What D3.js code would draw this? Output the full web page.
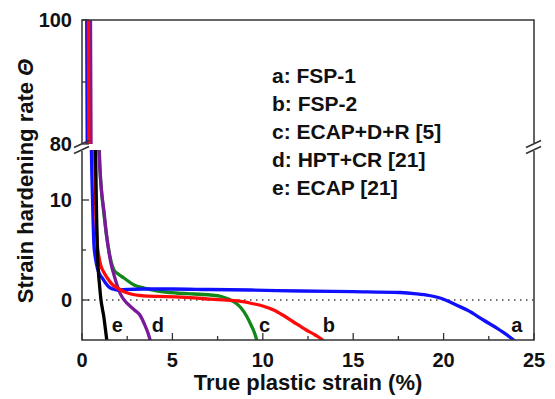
<!DOCTYPE html>
<html>
<head>
<meta charset="utf-8">
<script src="https://cdn.jsdelivr.net/npm/d3@7"></script>
<style>
  body { margin: 0; background: #fff; }
  svg { display: block; font-family: "Liberation Sans", Arial, sans-serif; font-weight: bold; }
</style>
</head>
<body>
<figure id="chart" style="margin:0"></figure>
<script>
// strain (%) and hardening rate for each curve
const strainA = [0.24, 0.26, 0.29, 0.52, 0.59, 0.66, 0.75, 0.85, 0.97, 1.12, 1.3, 1.49, 1.7, 1.95, 2.5, 3.4, 5, 7, 9.3, 12.1, 15, 17.6, 18.5, 19.2, 19.7, 20.1, 20.7, 21.3, 22.2, 23.1, 23.8, 24.05];
const thetaA  = [125, 100, 80, 15, 9.5, 5.5, 4.1, 3.2, 2.6, 2.2, 1.7, 1.3, 1.1, 1.0, 1.05, 1.1, 1.1, 1.05, 1.0, 0.9, 0.83, 0.75, 0.62, 0.45, 0.25, 0, -0.5, -1.0, -2.0, -3.0, -3.9, -4.3];

const strainB = [0.33, 0.35, 0.38, 0.69, 0.77, 0.85, 0.94, 1.03, 1.2, 1.4, 1.65, 1.95, 2.3, 2.7, 3.4, 4.2, 5.2, 6.2, 7.1, 8, 8.9, 9.4, 10.0, 10.6, 11.1, 11.7, 12.4, 12.9, 13.3, 13.45];
const thetaB  = [125, 100, 80, 15, 8.5, 5.5, 4.3, 3.5, 2.8, 2.2, 1.6, 1.2, 0.85, 0.6, 0.42, 0.36, 0.32, 0.22, 0.08, -0.02, -0.17, -0.35, -0.6, -1.0, -1.5, -2.2, -3.0, -3.5, -4.0, -4.3];

const strainC = [0.85, 1.0, 1.22, 1.49, 1.77, 2.0, 2.32, 2.88, 3.43, 4.2, 5.2, 6.2, 7.1, 7.7, 8.1, 8.5, 8.8, 9.1, 9.35, 9.6, 9.7];
const thetaC  = [20, 13, 8.5, 4.9, 3.0, 2.6, 2.2, 1.5, 1.2, 0.9, 0.7, 0.6, 0.5, 0.35, 0.1, -0.3, -0.8, -1.6, -2.5, -3.6, -4.3];

const strainD = [0.45, 0.47, 0.5, 0.94, 1.05, 1.22, 1.35, 1.49, 1.62, 1.77, 1.92, 2.05, 2.2, 2.4, 2.65, 2.9, 3.2, 3.45, 3.65, 3.8];
const thetaD  = [125, 100, 80, 15, 11.5, 8.8, 6.6, 4.8, 3.5, 2.5, 1.6, 0.9, 0.35, -0.15, -0.6, -1.0, -1.5, -2.4, -3.3, -4.2];

const strainE = [0.7, 0.75, 0.8, 0.85, 0.9, 0.97, 1.05, 1.12, 1.2, 1.28, 1.37, 1.4];
const thetaE  = [20, 15, 9, 5, 3.0, 1.5, 0, -0.8, -1.6, -2.7, -4.0, -4.4];

const seriesNames = ['a', 'b', 'c', 'd', 'e'];
const legendLabels = ['a: FSP-1', 'b: FSP-2', 'c: ECAP+D+R [5]', 'd: HPT+CR [21]', 'e: ECAP [21]'];
const curveLabelStrain = [24.05, 13.65, 10.1, 4.2, 1.95];
const xTicks = [0, 5, 10, 15, 20, 25];
const yTicksTop = [80, 100];
const yTicksBottom = [0, 10];

const colors = {a: '#1010ff', b: '#ff0a0a', c: '#12881a', d: '#7a1a9a', e: '#000000'};
const width = 555, height = 399;
const plotLeft = 82, plotRight = 534, plotTop = 20, breakTop = 144, breakBottom = 150, plotBottom = 340;

const svg = d3.select('figure#chart')
  .append('svg')
  .attr('width', width)
  .attr('height', height);

svg.append('rect').attr('width', width).attr('height', height).attr('fill', '#fff');

const x = d3.scaleLinear().domain([0, 25]).range([plotLeft, plotRight]);
const yTop = d3.scaleLinear().domain([80, 100]).range([breakTop, plotTop]);
const yBot = d3.scaleLinear().domain([-4, 15]).range([plotBottom, breakBottom]);

// clip regions for the two panels
const defs = svg.append('defs');
defs.append('clipPath').attr('id', 'clipTop').append('rect')
  .attr('x', plotLeft).attr('y', plotTop).attr('width', plotRight - plotLeft).attr('height', breakTop - plotTop);
defs.append('clipPath').attr('id', 'clipBot').append('rect')
  .attr('x', plotLeft).attr('y', breakBottom).attr('width', plotRight - plotLeft).attr('height', plotBottom - breakBottom);

// zero line
svg.append('line')
  .attr('x1', x(0)).attr('x2', x(25))
  .attr('y1', yBot(0)).attr('y2', yBot(0))
  .attr('stroke', '#444').attr('stroke-width', 1.3)
  .attr('stroke-dasharray', '1.5,4.5');

const data = {
  a: strainA.map((s, i) => [s, thetaA[i]]),
  b: strainB.map((s, i) => [s, thetaB[i]]),
  c: strainC.map((s, i) => [s, thetaC[i]]),
  d: strainD.map((s, i) => [s, thetaD[i]]),
  e: strainE.map((s, i) => [s, thetaE[i]])
};

const drawOrder = ['c', 'd', 'a', 'b', 'e'];
[[yTop, 'clipTop'], [yBot, 'clipBot']].forEach(([y, clip]) => {
  const line = d3.line().x(d => x(d[0])).y(d => y(d[1])).curve(d3.curveMonotoneX);
  svg.append('g')
    .attr('clip-path', 'url(#' + clip + ')')
    .selectAll('path')
    .data(drawOrder)
    .enter()
    .append('path')
    .attr('d', k => line(data[k]))
    .attr('fill', 'none')
    .attr('stroke', k => colors[k])
    .attr('stroke-width', 3.3)
    .attr('stroke-linejoin', 'round');
});

// frame
const axisColor = '#333';
const frame = svg.append('g').attr('stroke', axisColor).attr('stroke-width', 1.5).attr('fill', 'none');
frame.append('path').attr('d', `M${plotLeft},${breakTop - 1}V${plotTop}H${plotRight}V${breakTop - 1}`);
frame.append('path').attr('d', `M${plotLeft},${breakBottom + 1}V${plotBottom}H${plotRight}V${breakBottom + 1}`);

// break marks
[plotLeft, plotRight].forEach(bx => {
  [breakTop, breakBottom].forEach(by => {
    frame.append('line')
      .attr('x1', bx - 8).attr('y1', by + 3.5)
      .attr('x2', bx + 7).attr('y2', by - 3.5)
      .attr('stroke-width', 1.6);
  });
});

// ticks (inward)
const ticks = svg.append('g').attr('stroke', axisColor).attr('stroke-width', 1.3);
d3.range(0, 25.01, 2.5).forEach(v => {
  const major = v % 5 === 0;
  ticks.append('line')
    .attr('x1', x(v)).attr('x2', x(v))
    .attr('y1', plotBottom).attr('y2', plotBottom - (major ? 7 : 4));
});
[80, 90, 100].forEach(v => {
  ticks.append('line').attr('x1', plotLeft).attr('x2', plotLeft + (v === 90 ? 4 : 7))
    .attr('y1', yTop(v)).attr('y2', yTop(v));
});
[0, 5, 10].forEach(v => {
  ticks.append('line').attr('x1', plotLeft).attr('x2', plotLeft + (v === 5 ? 4 : 7))
    .attr('y1', yBot(v)).attr('y2', yBot(v));
});

// tick labels
const labelColor = '#111';
svg.append('g').selectAll('text')
  .data(xTicks).enter().append('text')
  .attr('x', d => x(d)).attr('y', 367)
  .attr('text-anchor', 'middle').attr('font-size', 20).attr('fill', labelColor)
  .text(d => d);

svg.append('g').selectAll('text')
  .data(yTicksTop).enter().append('text')
  .attr('x', 72).attr('y', d => yTop(d)).attr('dy', '0.36em')
  .attr('text-anchor', 'end').attr('font-size', 20).attr('fill', labelColor)
  .text(d => d);

svg.append('g').selectAll('text')
  .data(yTicksBottom).enter().append('text')
  .attr('x', 72).attr('y', d => yBot(d)).attr('dy', '0.36em')
  .attr('text-anchor', 'end').attr('font-size', 20).attr('fill', labelColor)
  .text(d => d);

// axis titles
svg.append('text')
  .attr('x', (plotLeft + plotRight) / 2).attr('y', 390)
  .attr('text-anchor', 'middle').attr('font-size', 22).attr('fill', labelColor)
  .text('True plastic strain (%)');

const yTitle = svg.append('text')
  .attr('transform', 'translate(33,181) rotate(-90)')
  .attr('text-anchor', 'middle').attr('font-size', 22).attr('fill', labelColor);
yTitle.append('tspan').text('Strain hardening rate ');
yTitle.append('tspan').attr('font-style', 'italic').text('Θ');

// legend
svg.append('g').selectAll('text')
  .data(legendLabels).enter().append('text')
  .attr('x', 272).attr('y', (d, i) => 83 + i * 28)
  .attr('font-size', 21).attr('fill', labelColor)
  .text(d => d);

// curve end labels
svg.append('g').selectAll('text')
  .data(seriesNames).enter().append('text')
  .attr('x', (d, i) => x(curveLabelStrain[i])).attr('y', yBot(-3.2))
  .attr('text-anchor', 'middle').attr('font-size', 20).attr('fill', labelColor)
  .text(d => d);
</script>
</body>
</html>
